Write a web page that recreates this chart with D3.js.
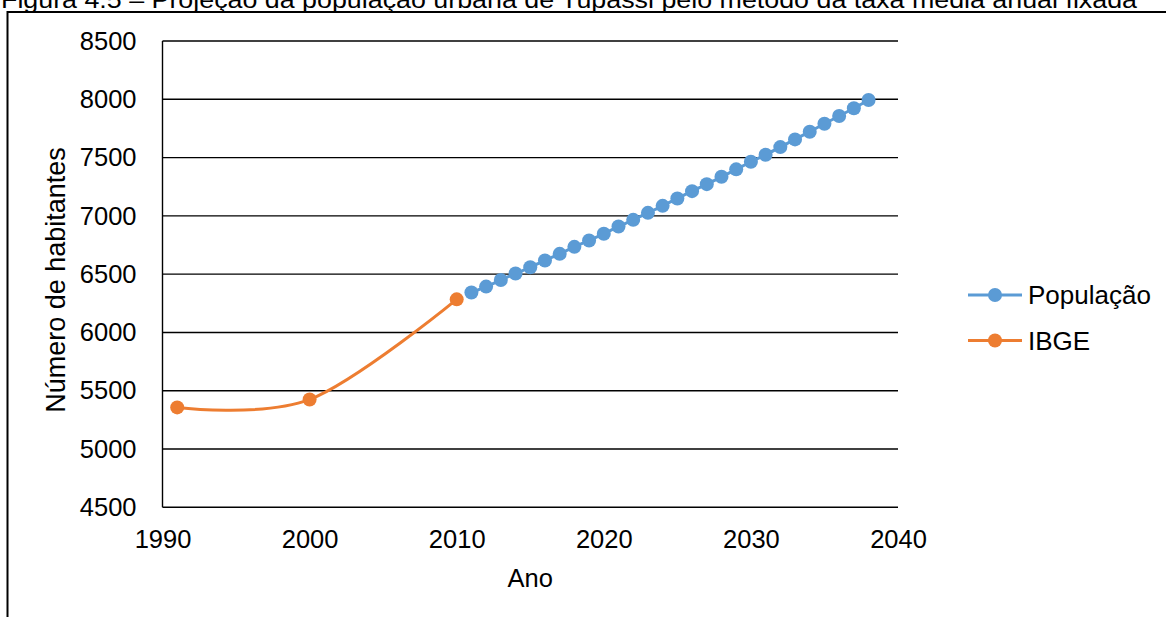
<!DOCTYPE html>
<html>
<head>
<meta charset="utf-8">
<script src="https://cdn.jsdelivr.net/npm/d3@7"></script>
<style>
  html, body { margin: 0; padding: 0; background: #fff; }
  svg { display: block; font-family: "Liberation Sans", Arial, sans-serif; }
</style>
</head>
<body>
<svg id="chart" width="1166" height="617"></svg>
<script>
// Urban population of Tupãssi: census counts (IBGE) and the projection
const titleText = "Figura 4.5 – Projeção da população urbana de Tupãssi pelo método da taxa média anual fixada";

const ibgeYears = [1991, 2000, 2010];
const ibgeValues = [5357, 5425, 6284];

const popYears = [2011, 2012, 2013, 2014, 2015, 2016, 2017, 2018, 2019, 2020,
                  2021, 2022, 2023, 2024, 2025, 2026, 2027, 2028, 2029, 2030,
                  2031, 2032, 2033, 2034, 2035, 2036, 2037, 2038];
const popValues = [6342, 6393, 6450, 6505, 6559, 6617, 6674, 6734, 6789, 6846,
                   6909, 6966, 7026, 7086, 7149, 7212, 7272, 7335, 7399, 7464,
                   7524, 7590, 7656, 7722, 7790, 7857, 7923, 7994];

const xTicks = [1990, 2000, 2010, 2020, 2030, 2040];
const yTicks = [4500, 5000, 5500, 6000, 6500, 7000, 7500, 8000, 8500];

const seriesNames = ["População", "IBGE"];
const seriesColors = ["#5B9BD5", "#ED7D31"];

const svg = d3.select("#chart");
const W = 1166, H = 617;

// Outer frame (runs off the right and bottom edges)
svg.append("rect")
  .attr("x", 7.5).attr("y", 12)
  .attr("width", W + 20).attr("height", H + 20)
  .attr("fill", "none").attr("stroke", "#000").attr("stroke-width", 2);

// Caption above the frame
svg.append("text")
  .attr("x", 1).attr("y", 7.5)
  .attr("font-size", 24)
  .attr("fill", "#000")
  .attr("textLength", 1136)
  .attr("lengthAdjust", "spacingAndGlyphs")
  .text(titleText);

const plot = { left: 162.5, right: 898, top: 41, bottom: 507.3 };

const x = d3.scaleLinear().domain([1990, 2040]).range([plot.left, plot.right]);
const y = d3.scaleLinear().domain([4500, 8500]).range([plot.bottom, plot.top]);

// Horizontal gridlines
svg.append("g")
  .selectAll("line")
  .data(yTicks)
  .join("line")
  .attr("x1", plot.left).attr("x2", plot.right)
  .attr("y1", d => y(d)).attr("y2", d => y(d))
  .attr("stroke", "#000").attr("stroke-width", 1.4);

// Vertical axis line
svg.append("line")
  .attr("x1", plot.left).attr("x2", plot.left)
  .attr("y1", plot.top).attr("y2", plot.bottom)
  .attr("stroke", "#000").attr("stroke-width", 1.4);

// Axis labels
const yAxis = svg.append("g")
  .attr("transform", `translate(${plot.left},0)`)
  .call(d3.axisLeft(y).tickValues(yTicks).tickSize(0).tickPadding(26).tickFormat(d3.format("d")));
yAxis.select(".domain").remove();
yAxis.selectAll("text").attr("font-size", 25.5).attr("fill", "#000")
  .attr("font-family", "'Liberation Sans', Arial, sans-serif");

const xAxis = svg.append("g")
  .attr("transform", `translate(0,${plot.bottom})`)
  .call(d3.axisBottom(x).tickValues(xTicks).tickSize(0).tickPadding(23).tickFormat(d3.format("d")));
xAxis.select(".domain").remove();
xAxis.selectAll("text").attr("font-size", 25.5).attr("fill", "#000")
  .attr("font-family", "'Liberation Sans', Arial, sans-serif");

// Axis titles
svg.append("text")
  .attr("x", (plot.left + plot.right) / 2).attr("y", 587)
  .attr("text-anchor", "middle").attr("font-size", 25.5).attr("fill", "#000")
  .text("Ano");

svg.append("text")
  .attr("transform", `translate(65,280) rotate(-90)`)
  .attr("text-anchor", "middle").attr("font-size", 27).attr("fill", "#000")
  .text("Número de habitantes");

// Series
const popData = popYears.map((yr, i) => ({ x: yr, y: popValues[i] }));
const ibgeData = ibgeYears.map((yr, i) => ({ x: yr, y: ibgeValues[i] }));

const smoothLine = d3.line().x(d => x(d.x)).y(d => y(d.y)).curve(d3.curveCardinal.tension(0));

const r = 7;

function drawSeries(data, color) {
  const g = svg.append("g");
  g.append("path")
    .datum(data)
    .attr("d", smoothLine)
    .attr("fill", "none")
    .attr("stroke", color)
    .attr("stroke-width", 3)
    .attr("stroke-linecap", "round");
  g.selectAll("circle")
    .data(data)
    .join("circle")
    .attr("cx", d => x(d.x)).attr("cy", d => y(d.y))
    .attr("r", r)
    .attr("fill", color);
}

drawSeries(ibgeData, seriesColors[1]);
drawSeries(popData, seriesColors[0]);

// Legend
const legend = svg.append("g");
seriesNames.forEach((name, i) => {
  const ly = 295 + i * 45.5;
  legend.append("line")
    .attr("x1", 968).attr("x2", 1022)
    .attr("y1", ly).attr("y2", ly)
    .attr("stroke", seriesColors[i]).attr("stroke-width", 3);
  legend.append("circle")
    .attr("cx", 995).attr("cy", ly).attr("r", r)
    .attr("fill", seriesColors[i]);
  legend.append("text")
    .attr("x", 1028).attr("y", ly + 9)
    .attr("font-size", 26).attr("fill", "#000")
    .text(name);
});
</script>
</body>
</html>
